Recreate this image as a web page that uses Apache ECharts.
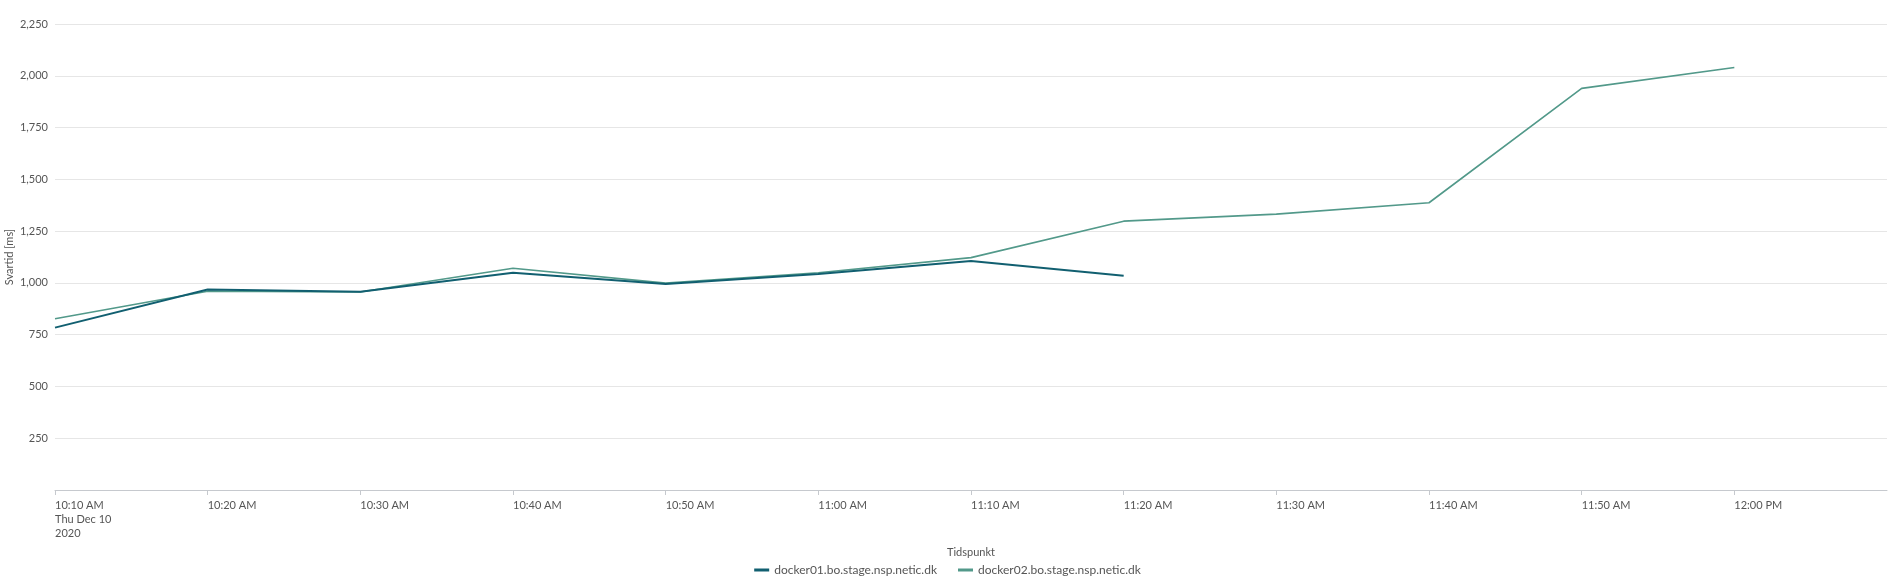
<!DOCTYPE html>
<html>
<head>
<meta charset="utf-8">
<script src="https://cdn.jsdelivr.net/npm/echarts@6/dist/echarts.min.js"></script>
<style>
html,body{margin:0;padding:0;background:#fff;}
#chart{width:1895px;height:586px;}
</style>
</head>
<body>
<div id="chart"></div>
<script>
// Times (UTC-based clock labels) and values in ms
const times01 = ["10:10","10:20","10:30","10:40","10:50","11:00","11:10","11:20"];
const values01 = [784, 968, 957, 1049, 995, 1043, 1106, 1035];
const times02 = ["10:10","10:20","10:30","10:40","10:50","11:00","11:10","11:20","11:30","11:40","11:50","12:00"];
const values02 = [827, 960, 956, 1071, 999, 1049, 1122, 1298, 1332, 1387, 1939, 2040];
const seriesNames = ["docker01.bo.stage.nsp.netic.dk", "docker02.bo.stage.nsp.netic.dk"];
const axisStart = "10:10";
const axisEnd = "12:10";
const yTicks = [0, 250, 500, 750, 1000, 1250, 1500, 1750, 2000, 2250];

function ts(hm){
  const [h,m] = hm.split(":").map(Number);
  return Date.UTC(2020, 11, 10, h, m, 0);
}
function pairs(t, v){ return t.map((x,i)=>[ts(x), v[i]]); }
function fmtTime(val){
  const d = new Date(val);
  let h = d.getUTCHours(), m = d.getUTCMinutes();
  const ap = h >= 12 ? "PM" : "AM";
  let hh = h % 12; if (hh === 0) hh = 12;
  return hh + ":" + (m < 10 ? "0" + m : m) + " " + ap;
}
const minT = ts(axisStart), maxT = ts(axisEnd);
const font = "Lato, 'Open Sans', sans-serif";

const chart = echarts.init(document.getElementById("chart"));
chart.setOption({
  animation: false,
  color: ["#115f70", "#52998a"],
  grid: { left: 55, right: 8, top: 24, bottom: 96, containLabel: false, outerBoundsMode: "none" },
  legend: {
    top: 559,
    left: "center",
    itemWidth: 15,
    itemHeight: 3,
    itemGap: 21,
    icon: "rect",
    textStyle: { fontFamily: font, fontSize: 12, color: "#555" },
    data: seriesNames
  },
  xAxis: {
    type: "value",
    min: minT,
    max: maxT,
    interval: 600000,
    name: "Tidspunkt",
    nameLocation: "middle",
    nameGap: 57,
    nameMoveOverlap: false,
    nameTextStyle: { fontFamily: font, fontSize: 11, color: "#555" },
    axisLine: { show: true, lineStyle: { color: "#c6c9ce", width: 1 } },
    axisTick: { show: true, length: 5, lineStyle: { color: "#c6c9ce" } },
    splitLine: { show: false },
    axisLabel: {
      showMaxLabel: false,
      align: "left",
      margin: 8,
      lineHeight: 14,
      fontFamily: font,
      fontSize: 11,
      color: "#555",
      formatter: function(v){
        if (v === minT) return fmtTime(v) + "\nThu Dec 10\n2020";
        return fmtTime(v);
      }
    }
  },
  yAxis: {
    type: "value",
    min: yTicks[0],
    max: yTicks[yTicks.length-1],
    interval: yTicks[1] - yTicks[0],
    name: "Svartid [ms]",
    nameLocation: "middle",
    nameGap: 40,
    nameMoveOverlap: false,
    nameTextStyle: { fontFamily: font, fontSize: 11, color: "#555" },
    axisLine: { show: false },
    axisTick: { show: false },
    splitLine: { lineStyle: { color: "#e6e6e6", width: 1 } },
    axisLabel: {
      showMinLabel: false,
      margin: 7,
      fontFamily: font,
      fontSize: 11,
      color: "#555",
      formatter: function(v){ return v.toLocaleString("en-US"); }
    }
  },
  series: [
    {
      name: seriesNames[0],
      type: "line",
      data: pairs(times01, values01),
      showSymbol: false,
      symbol: "none",
      lineStyle: { width: 2, color: "#115f70" },
      z: 3
    },
    {
      name: seriesNames[1],
      type: "line",
      data: pairs(times02, values02),
      showSymbol: false,
      symbol: "none",
      lineStyle: { width: 1.6, color: "#52998a" },
      z: 2
    }
  ]
});
</script>
</body>
</html>
